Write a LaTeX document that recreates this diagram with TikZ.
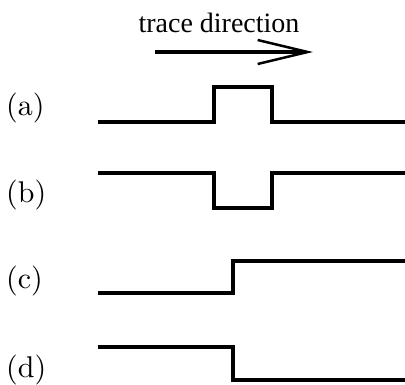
\documentclass[tikz,border=0pt]{standalone}
\usepackage{fontspec}
\newfontfamily\tracefont{Liberation Serif}
\usetikzlibrary{arrows.meta}

\tikzset{
  wave/.style={line width=4pt, line join=miter},
  caselabel/.style={anchor=west, inner sep=0pt, font=\fontsize{10}{12}\selectfont}
}
\newcommand{\caselab}[1]{\scalebox{3}{(#1)}}

\begin{document}
\begin{tikzpicture}[x=1pt, y=-1pt]
    \useasboundingbox (0,0) rectangle (405,384);

    % direction of the trace
    \node[anchor=base, inner sep=0pt, font=\tracefont\fontsize{28}{32}\selectfont]
      (title) at (219,32) {trace direction};
    \coordinate (tail) at (155,52);
    \coordinate (head) at (313,52);
    \draw[line width=4pt, -{Straight Barb[length=50pt, width=24pt, line width=2.5pt]}]
      (tail) -- (head);

    % labels
    \node[caselabel] (a) at (6,108) {\caselab{a}};
    \node[caselabel] (b) at (6,195) {\caselab{b}};
    \node[caselabel] (c) at (6,281) {\caselab{c}};
    \node[caselabel] (d) at (6,370) {\caselab{d}};

    % (a) positive pulse
    \draw[wave] (98,122) -- (214,122) -- (214,87) -- (272,87) -- (272,122) -- (405,122);

    % (b) negative pulse
    \draw[wave] (98,173) -- (214,173) -- (214,208) -- (272,208) -- (272,173) -- (405,173);

    % (c) step up
    \draw[wave] (98,293) -- (233,293) -- (233,261) -- (405,261);

    % (d) step down
    \draw[wave] (98,347) -- (233,347) -- (233,380) -- (405,380);
\end{tikzpicture}
\end{document}
